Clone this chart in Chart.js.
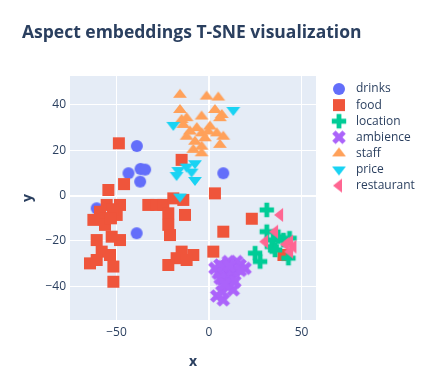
<!DOCTYPE html>
<html><head><meta charset="utf-8">
<script src="https://cdn.jsdelivr.net/npm/chart.js@4/dist/chart.umd.min.js"></script>
<style>html,body{margin:0;padding:0;background:#fff;}canvas{display:block;}</style>
</head><body>
<canvas id="c" width="436" height="382"></canvas>
<script>
const categories = ['drinks','food','location','ambience','staff','price','restaurant'];
const colors = ['#636efa','#EF553B','#00cc96','#ab63fa','#FFA15A','#19d3f3','#FF6692'];
const xTicks = [-50, 0, 50];
const yTicks = [-40, -20, 0, 20, 40];

const drinksX = [-39, -43.5, -37, -34.5, -37.2, 7.7, -39.1, -60.7];
const drinksY = [21.9, 9.9, 11.8, 11.5, 6.2, 9.9, -16.6, -5.6];

const foodX = [-48.7, -14.8, -45.9, -54.4, 3.2, -55.3, -48.1, -58.9, -62.5, -56.2, -49.9, -56.2, -52.6, -48.1, -60.7, -58, -53.5, -64.3, -60.7, -51.7, -51.7, -52, -53,
  -32.8, -28.5, -24.7, -19.3, -13.9, -22, -13, -22, -21.1, -14.8, -8.5, -17.5, -22, -12.1, 23.1, 7.7, 2.3, 40.2];
const foodY = [23.1, 15.8, 5.1, 2.5, 1, -4.1, -4.1, -7.1, -10.7, -10, -8.5, -12.9, -18.1, -19.6, -19.6, -24.7, -26.2, -29.9, -28.4, -31.3, -38, -6, -10,
  -4.1, -4.1, -4.1, -1.2, -1.9, -7.8, -8.5, -12.9, -17.4, -24.7, -26.2, -27.6, -30.6, -28.4, -10.2, -15.9, -24.7, -26.2];

const locationX = [31.2, 31.2, 34.8, 40.2, 33.9, 35.7, 24.9, 27.6, 42.9, 43.5, 37.4];
const locationY = [-6.3, -15.9, -19.6, -19.6, -22.5, -24, -25.4, -29.1, -27.6, -18.8, -18.1];

const ambienceX = [5.9, 10.4, 15, 19.5, 5, 9.6, 14.1, 7.7, 12.3, 10.4, 13.1, 4.2, 7.7, 6.9, 3.2, 16.8, 7.7, 12, 9, 14, 11, 17, 6, 8.5];
const ambienceY = [-30.6, -29.1, -29.1, -32.1, -34.3, -33.6, -32.8, -37.2, -36.5, -40.2, -41.6, -44.3, -46, -42.4, -32.1, -30.6, -31.3, -34, -36, -38, -31, -33, -36.5, -39];

const staffX = [-15.7, -1.3, 5, -15.7, -12.1, -4, 3.2, 6.9, -13.9, -6.6, 0.5, 4.2, -12.1, -4, -2.2, 7.7, -7.6, 5.9, -8.5, -4, -4, 5.9, -14.8, -0.4, -10.3];
const staffY = [44.5, 43.7, 43.3, 37.8, 34.2, 34.9, 37.8, 35.6, 31.2, 29.8, 30.5, 27.5, 26, 27.5, 25.3, 26, 23.8, 22.4, 20.2, 18.7, 21.6, 34.2, 33.4, 28.3, 28.3];

const priceX = [13.1, -19.3, -7.6, -12.1, -16.6, -9.4, -17.5, -7.6, -15.7];
const priceY = [37.8, 31.2, 14.3, 12.8, 11.3, 10.6, 9.1, 6.9, -0.4];

const restaurantX = [38.4, 35.7, 30.3, 43.8, 45.6, 43.8, 41.5];
const restaurantY = [-8.5, -15.9, -20.3, -20.3, -22.5, -24.7, -21.5];

const seriesX = [drinksX, foodX, locationX, ambienceX, staffX, priceX, restaurantX];
const seriesY = [drinksY, foodY, locationY, ambienceY, staffY, priceY, restaurantY];
const shapes = ['circle','square','cross','x','up','down','left'];

function makeMarker(shape, color) {
  const c = document.createElement('canvas');
  c.width = 18; c.height = 18;
  const g = c.getContext('2d');
  g.translate(9, 9);
  g.fillStyle = color;
  const r = 6;
  g.beginPath();
  if (shape === 'circle') {
    g.arc(0, 0, r, 0, Math.PI * 2);
  } else if (shape === 'square') {
    g.rect(-r, -r, 2 * r, 2 * r);
  } else if (shape === 'cross' || shape === 'x') {
    if (shape === 'x') g.rotate(Math.PI / 4);
    const a = r * 1.2, b = r * 0.4;
    g.moveTo(a, b); g.lineTo(b, b); g.lineTo(b, a); g.lineTo(-b, a); g.lineTo(-b, b); g.lineTo(-a, b);
    g.lineTo(-a, -b); g.lineTo(-b, -b); g.lineTo(-b, -a); g.lineTo(b, -a); g.lineTo(b, -b); g.lineTo(a, -b);
    g.closePath();
  } else {
    const rt = r * 2 / Math.sqrt(3), r2 = r / 2, rs = r;
    if (shape === 'up') { g.moveTo(-rt, r2); g.lineTo(rt, r2); g.lineTo(0, -rs); }
    else if (shape === 'down') { g.moveTo(-rt, -r2); g.lineTo(rt, -r2); g.lineTo(0, rs); }
    else { g.moveTo(r2, -rt); g.lineTo(r2, rt); g.lineTo(-rs, 0); }
    g.closePath();
  }
  g.fill();
  return c;
}

const markers = shapes.map((s, i) => makeMarker(s, colors[i]));

const datasets = categories.map((name, i) => ({
  label: name,
  data: seriesX[i].map((x, j) => ({ x: x, y: seriesY[i][j] })),
  pointStyle: markers[i],
  pointRadius: 6,
  backgroundColor: colors[i],
  borderColor: colors[i],
  order: categories.length - i
}));

const FONT = '"Open Sans", "Noto Sans", sans-serif';
const TXT = '#2a3f5f';

const decor = {
  id: 'decor',
  beforeDraw(chart) {
    const ctx = chart.ctx, a = chart.chartArea;
    ctx.save();
    ctx.fillStyle = '#ffffff';
    ctx.fillRect(0, 0, chart.width, chart.height);
    ctx.fillStyle = '#E5ECF6';
    ctx.fillRect(a.left, a.top, a.right - a.left, a.bottom - a.top);
    ctx.restore();
  },
  afterDraw(chart) {
    const ctx = chart.ctx, a = chart.chartArea;
    ctx.save();
    ctx.fillStyle = TXT;
    ctx.textBaseline = 'middle';
    ctx.textAlign = 'left';
    ctx.font = 'bold 17.5px ' + FONT;
    ctx.fillText('Aspect embeddings T-SNE visualization', 22, 33);
    ctx.font = 'bold 14px ' + FONT;
    ctx.textAlign = 'center';
    ctx.fillText('x', (a.left + a.right) / 2, 362);
    ctx.save();
    ctx.translate(28, (a.top + a.bottom) / 2);
    ctx.rotate(-Math.PI / 2);
    ctx.fillText('y', 0, 0);
    ctx.restore();
    ctx.font = '12px ' + FONT;
    ctx.textAlign = 'left';
    categories.forEach((name, i) => {
      const y = 89 + i * 16.1;
      ctx.drawImage(markers[i], 339 - 9, y - 9);
      ctx.fillStyle = TXT;
      ctx.fillText(name, 356, y);
    });
    ctx.restore();
  }
};

new Chart(document.getElementById('c'), {
  type: 'scatter',
  data: { datasets: datasets },
  options: {
    responsive: false,
    animation: false,
    devicePixelRatio: 1,
    events: [],
    layout: { padding: { left: 0, right: 120, top: 76, bottom: 0 } },
    plugins: { legend: { display: false }, tooltip: { enabled: false }, title: { display: false } },
    scales: {
      x: {
        type: 'linear', min: -75.1, max: 57.8,
        afterBuildTicks: s => { s.ticks = xTicks.map(v => ({ value: v })); },
        afterFit: s => { s.height = 62; },
        border: { display: false },
        grid: { color: '#ffffff', lineWidth: c => (c.tick && c.tick.value === 0 ? 2 : 1), drawTicks: false },
        ticks: { color: TXT, font: { family: FONT, size: 12 }, padding: 5, maxRotation: 0,
          callback: v => String(v).replace('-', '\u2212') }
      },
      y: {
        type: 'linear', min: -54.9, max: 52.8,
        afterBuildTicks: s => { s.ticks = yTicks.map(v => ({ value: v })); },
        afterFit: s => { s.width = 70; },
        border: { display: false },
        grid: { color: '#ffffff', lineWidth: c => (c.tick && c.tick.value === 0 ? 2 : 1), drawTicks: false },
        ticks: { color: TXT, font: { family: FONT, size: 12 }, padding: 4,
          callback: v => String(v).replace('-', '\u2212') }
      }
    }
  },
  plugins: [decor]
});
</script>
</body></html>
